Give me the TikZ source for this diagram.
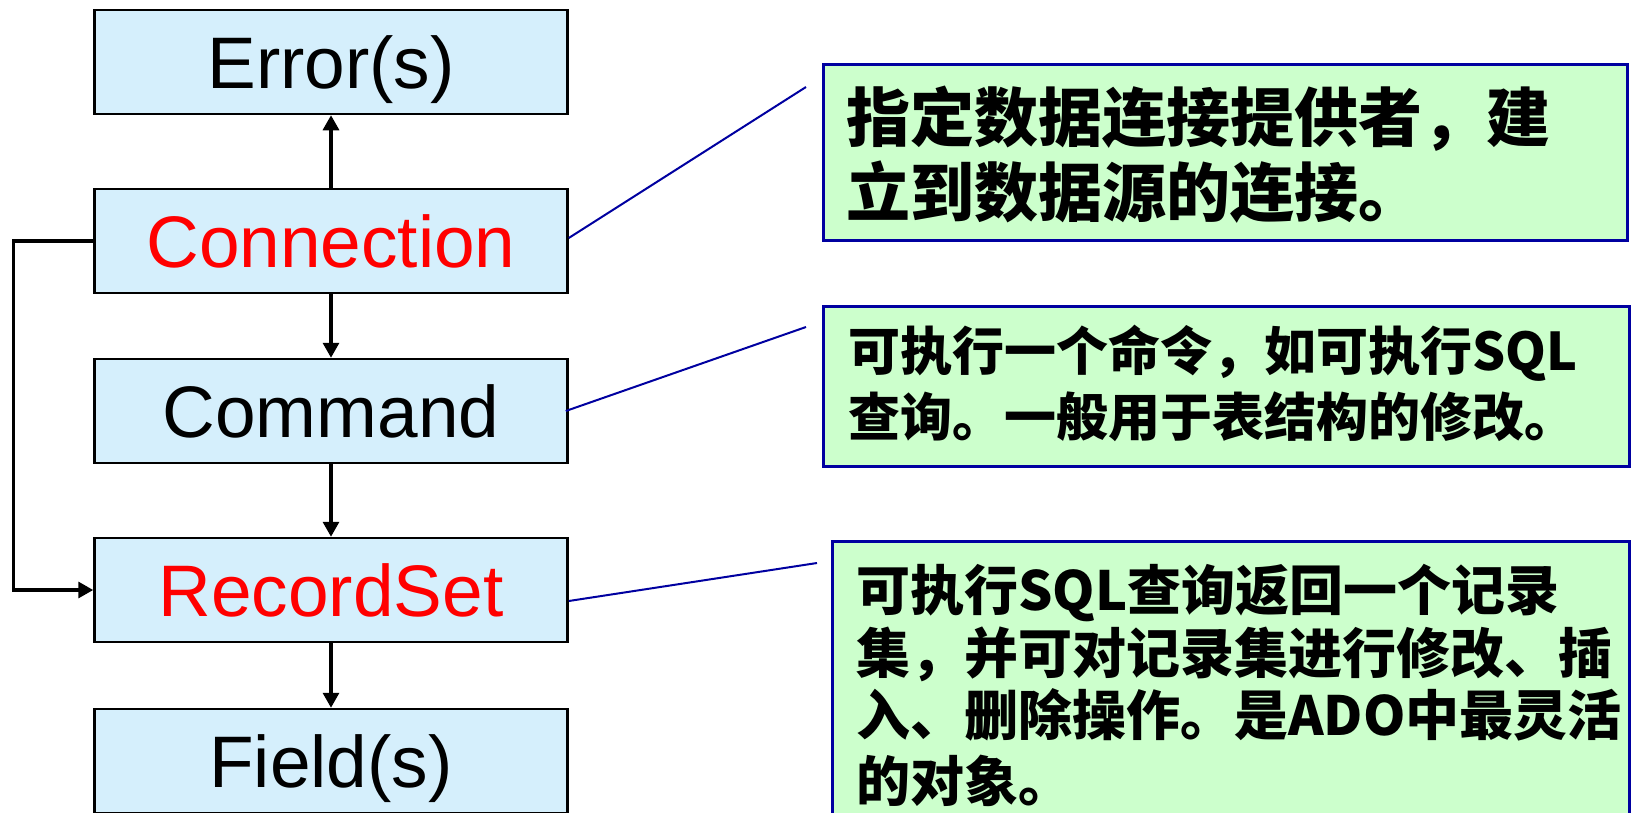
\documentclass[tikz,border=0pt]{standalone}
\usepackage{fontspec}
\setmainfont{Liberation Sans}
\newfontfamily\cjk{Noto Sans CJK SC}
\usetikzlibrary{arrows.meta}
\definecolor{boxblue}{RGB}{213,239,252}
\definecolor{notegreen}{RGB}{204,255,204}
\definecolor{linkblue}{RGB}{0,0,160}
\tikzset{
  objbox/.style={draw=black, line width=2.5pt, fill=boxblue, minimum width=473pt, minimum height=104pt,
    inner sep=0pt, text height=52pt, text depth=0pt, font=\fontsize{73}{80}\selectfont},
  notebox/.style={draw=linkblue, line width=2.5pt, fill=notegreen},
  arr/.style={line width=3.3pt, -{Triangle[length=15pt,width=16pt]}},
  link/.style={draw=linkblue, line width=2pt},
  noteA/.style={anchor=base west, inner sep=0pt, font=\cjk\bfseries\fontsize{64}{73}\selectfont},
  noteB/.style={anchor=base west, inner sep=0pt, font=\cjk\bfseries\fontsize{52}{65}\selectfont},
  noteC/.style={anchor=base west, inner sep=0pt, font=\cjk\bfseries\fontsize{54}{64}\selectfont},
}
\begin{document}
\begin{tikzpicture}[x=1pt, y=-1pt]
\useasboundingbox (0,0) rectangle (1631,812);
% object boxes
\node[objbox] (err) at (331,62) {Error(s)};
\node[objbox, text=red] (conn) at (331,241) {Connection};
\node[objbox] (cmd) at (331,411) {Command};
\node[objbox, text=red] (rec) at (331,590) {RecordSet};
\node[objbox] (fld) at (331,761) {Field(s)};
% arrows
\draw[arr] (conn.north) -- (err.south);
\draw[arr] (conn.south) -- (cmd.north);
\draw[arr] (cmd.south) -- (rec.north);
\draw[arr] (rec.south) -- (fld.north);
\coordinate (loopx) at (13.4,0);
\draw[arr] (conn.west) -- (conn.west -| loopx) |- (rec.west);
% note boxes
\node[notebox, minimum width=804pt, minimum height=176pt, anchor=north west] (n1) at (822,63) {};
\node[notebox, minimum width=806pt, minimum height=160pt, anchor=north west] (n2) at (822,305) {};
\node[notebox, minimum width=797pt, minimum height=300pt, anchor=north west] (n3) at (831,540) {};
% note texts
\node[noteA] (n1a) at (846,141.5) {指定数据连接提供者，建};
\node[noteA] (n1b) at (846,216.5) {立到数据源的连接。};
\node[noteB] (n2a) at (848,370) {可执行一个命令，如可执行SQL};
\node[noteB] (n2b) at (848,436) {查询。一般用于表结构的修改。};
\node[noteC] (n3a) at (856,610.5) {可执行SQL查询返回一个记录};
\node[noteC] (n3b) at (856,673.5) {集，并可对记录集进行修改、插};
\node[noteC] (n3c) at (856,735.5) {入、删除操作。是ADO中最灵活};
\node[noteC] (n3d) at (856,801.5) {的对象。};
% callout lines
\coordinate (c1) at (806,87);
\coordinate (c2) at (806,327);
\coordinate (c3) at (817,563);
\draw[link] ([yshift=3pt]conn.east) -- (c1);
\draw[link] ([xshift=-3pt]cmd.east) -- (c2);
\draw[link] ([yshift=-11pt]rec.east) -- (c3);
\end{tikzpicture}
\end{document}
